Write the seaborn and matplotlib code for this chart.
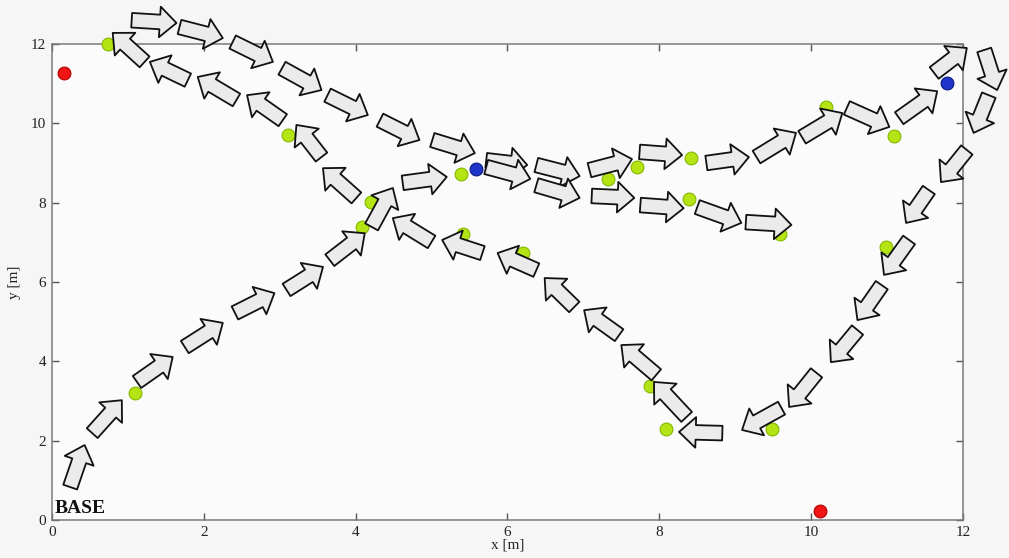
import matplotlib
matplotlib.use("Agg")
import matplotlib.pyplot as plt
import seaborn as sns
import pandas as pd
from matplotlib.patches import FancyArrowPatch

# ---------------- data ----------------
# arrows: tail (x0, y0) -> head (x1, y1), in metres
arrow_x0 = [0.24, 0.53, 1.12, 1.75, 2.41, 3.09, 3.66, 4.21, 4.62,
            1.05, 1.68, 2.38, 3.03, 3.63, 4.32, 5.01,
            5.72, 5.72, 6.38, 6.38, 7.08, 7.11, 7.74, 7.75, 8.62, 8.50,
            9.28, 9.14, 9.88, 10.47, 11.16, 11.62,
            12.28, 12.34, 12.05, 11.55, 11.29, 10.93, 10.61, 10.07, 9.61, 8.83,
            8.36, 7.96, 7.47, 6.88, 6.38, 5.67, 5.00,
            4.01, 3.55, 3.04, 2.43, 1.79, 1.22]
arrow_y0 = [0.83, 2.19, 3.48, 4.36, 5.22, 5.80, 6.55, 7.39, 8.50,
            12.60, 12.43, 12.05, 11.39, 10.71, 10.08, 9.58,
            9.07, 8.90, 8.95, 8.44, 8.82, 8.17, 9.28, 7.94, 9.00, 7.89,
            9.15, 7.51, 9.65, 10.39, 10.13, 11.27,
            11.85, 10.71, 9.33, 8.32, 7.06, 5.92, 4.79, 3.71, 2.82, 2.19,
            2.60, 3.66, 4.66, 5.37, 6.30, 6.73, 7.01,
            8.12, 9.15, 10.08, 10.59, 11.09, 11.55]
arrow_x1 = [0.43, 0.92, 1.59, 2.25, 2.93, 3.57, 4.12, 4.49, 5.20,
            1.64, 2.25, 2.91, 3.55, 4.16, 4.84, 5.57,
            6.26, 6.30, 6.95, 6.95, 7.64, 7.67, 8.30, 8.32, 9.18, 9.08,
            9.80, 9.74, 10.41, 11.03, 11.66, 12.05,
            12.45, 12.14, 11.71, 11.25, 10.96, 10.61, 10.26, 9.71, 9.09, 8.26,
            7.93, 7.50, 7.01, 6.49, 5.87, 5.14, 4.49,
            3.57, 3.22, 2.57, 1.92, 1.29, 0.80]
arrow_y1 = [1.89, 3.02, 4.11, 4.97, 5.72, 6.38, 7.23, 8.37, 8.65,
            12.53, 12.15, 11.55, 10.84, 10.21, 9.58, 9.25,
            8.95, 8.60, 8.67, 8.12, 9.10, 8.12, 9.20, 7.86, 9.15, 7.49,
            9.76, 7.44, 10.26, 9.91, 10.81, 11.90,
            10.84, 9.76, 8.52, 7.49, 6.18, 5.04, 3.98, 2.85, 2.27, 2.22,
            3.48, 4.41, 5.29, 6.10, 6.73, 7.06, 7.61,
            8.87, 9.96, 10.71, 11.17, 11.55, 12.28]

green_x = [0.74, 3.11, 4.20, 4.09, 5.39, 5.41, 6.20, 1.10, 7.32, 7.70,
           8.42, 8.39, 9.59, 10.20, 11.09, 10.99, 7.88, 8.09, 9.49]
green_y = [12.00, 9.70, 8.02, 7.39, 8.72, 7.21, 6.73, 3.20, 8.60, 8.90,
           9.13, 8.09, 7.21, 10.41, 9.68, 6.88, 3.38, 2.29, 2.29]
blue_x = [5.58, 11.79]
blue_y = [8.85, 11.02]
red_x = [0.16, 10.12]
red_y = [11.27, 0.23]

x_ticks = [0, 2, 4, 6, 8, 10, 12]
y_ticks = [0, 2, 4, 6, 8, 10, 12]

# ---------------- figure ----------------
sns.set_style("ticks")
plt.rcParams['font.family'] = ['Liberation Serif', 'DejaVu Serif']

fig = plt.figure(figsize=(10.09, 5.58), dpi=100, facecolor='#f6f6f6')
ax = fig.add_axes([0.0515, 0.0681, 0.9029, 0.853])
ax.set_facecolor('#fbfbfb')

pts = pd.DataFrame({
    'x': green_x + blue_x + red_x,
    'y': green_y + blue_y + red_y,
    'kind': ['green'] * len(green_x) + ['blue'] * len(blue_x) + ['red'] * len(red_x),
})
edge = {'green': '#86b800', 'blue': '#0a1a80', 'red': '#b00000'}
face = {'green': '#b4e414', 'blue': '#1f34c8', 'red': '#f01414'}
for k in ['green', 'blue', 'red']:
    sub = pts[pts['kind'] == k]
    sns.scatterplot(data=sub, x='x', y='y', ax=ax, color=face[k], edgecolor=edge[k],
                    linewidth=0.8, s=85, zorder=3, clip_on=False, legend=False)

for x0, y0, x1, y1 in zip(arrow_x0, arrow_y0, arrow_x1, arrow_y1):
    p = FancyArrowPatch((x0, y0), (x1, y1),
                        arrowstyle='simple,head_length=1.2,head_width=2.2,tail_width=1.05',
                        mutation_scale=10, shrinkA=0, shrinkB=0,
                        facecolor='#ebebeb', edgecolor='#111111', linewidth=1.3,
                        zorder=4, clip_on=False, transform=ax.transData)
    ax.add_patch(p)

ax.text(0.04, 0.08, 'BASE', fontsize=14, fontweight='bold', color='#111111',
        ha='left', va='bottom', zorder=5)

ax.set_xlim(0, 12)
ax.set_ylim(0, 12)
ax.set_xticks(x_ticks)
ax.set_yticks(y_ticks)
ax.set_xticklabels([str(v) for v in x_ticks])
ax.set_yticklabels([str(v) for v in y_ticks])
ax.tick_params(direction='in', top=True, right=True, length=5, width=1,
               color='#555555', labelsize=11, labelcolor='#222222', pad=4)
for s in ax.spines.values():
    s.set_color('#7a7a7a')
    s.set_linewidth(1.1)
ax.set_xlabel('x [m]', fontsize=11, color='#222222', labelpad=0)
ax.set_ylabel('y [m]', fontsize=11, color='#222222', labelpad=7)

fig.savefig('out.png', dpi=100, facecolor=fig.get_facecolor())
